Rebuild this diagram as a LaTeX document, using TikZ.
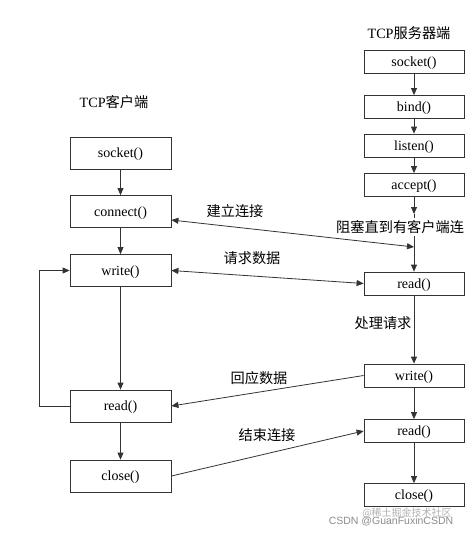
\documentclass[tikz,border=0pt]{standalone}
\usepackage{fontspec}
\setmainfont{Liberation Serif}
\newfontfamily\cjk{Noto Sans CJK SC}
\newfontfamily\wmfont{Liberation Sans}
\usetikzlibrary{arrows.meta,calc}
\begin{document}
\begin{tikzpicture}[x=1pt,y=-1pt,
  line/.style={draw=black!80,line width=0.8pt},
  arr/.style={line,-{Triangle[length=7pt,width=6pt]}},
  darr/.style={line,{Triangle[length=7pt,width=6pt]}-{Triangle[length=7pt,width=6pt]}},
  cbox/.style={line,fill=white,minimum width=101pt,minimum height=32pt,inner sep=0pt,text depth=0pt,font=\fontsize{14}{16}\selectfont},
  sbox/.style={line,fill=white,minimum width=100pt,minimum height=23pt,inner sep=0pt,text depth=0pt,font=\fontsize{14}{16}\selectfont},
  lbl/.style={inner sep=0pt,font=\cjk\fontsize{14.2}{16}\selectfont},
]
\useasboundingbox[fill=white] (0,0) rectangle (465,535);
% titles
\node[lbl] (tserver) at (409,33) {\rmfamily TCP\cjk 服务器端};
\node[lbl] (tclient) at (114,102) {\rmfamily TCP\cjk 客户端};
% client boxes
\node[cbox] (csock) at (120.5,153) {socket()};
\node[cbox] (cconn) at (120.5,211.5) {connect()};
\node[cbox] (cwrite) at (120.5,270.5) {write()};
\node[cbox] (cread) at (120.5,406) {read()};
\node[cbox] (cclose) at (120.5,476) {close()};
% server boxes
\node[sbox] (ssock) at (414,61.5) {socket()};
\node[sbox] (sbind) at (414,107) {bind()};
\node[sbox] (slisten) at (414,145.5) {listen()};
\node[sbox] (sacc) at (414,185) {accept()};
\node[sbox] (sread) at (414,283.5) {read()};
\node[sbox] (swrite) at (414,375.5) {write()};
\node[sbox] (sread2) at (414,431) {read()};
\node[sbox] (sclose) at (414,495) {close()};
\coordinate (jB) at (414,214);
\coordinate (jA) at (414,247);
% client flow
\draw[arr] (csock) -- (cconn);
\draw[arr] (cconn) -- (cwrite);
\draw[arr] (cwrite) -- (cread);
\draw[arr] (cread) -- (cclose);
\draw[arr] (cread.west) -- ++(-30,0) |- (cwrite.west);
% server flow
\draw[arr] (ssock) -- (sbind);
\draw[arr] (sbind) -- (slisten);
\draw[arr] (slisten) -- (sacc);
\draw[arr] (sacc) -- (jB);
\draw[arr] (jB) -- (sread);
\draw[arr] (sread) -- (swrite);
\draw[arr] (swrite) -- (sread2);
\draw[arr] (sread2) -- (sclose);
% exchanges
\draw[darr] ($(cconn.east)+(0,8.5)$) -- (jA);
\draw[darr] (cwrite.east) -- (sread.west);
\draw[arr] (swrite.west) -- (cread.east);
\draw[arr] (cclose.east) -- (sread2.west);
% labels
\node[lbl,fill=white,anchor=west,inner ysep=2pt] (lblock) at (336,227) {阻塞直到有客户端连};
\node[lbl] (lconn) at (235,211) {建立连接};
\node[lbl] (lreq) at (252,258) {请求数据};
\node[lbl] (lproc) at (383,323) {处理请求};
\node[lbl] (lresp) at (259,378) {回应数据};
\node[lbl] (lend) at (267,435) {结束连接};
% watermark
\node[inner sep=0pt,text=black!30,font=\cjk\fontsize{10}{12}\selectfont] (wm2) at (407,513) {@稀土掘金技术社区};
\node[inner sep=0pt,text=black!45,font=\wmfont\fontsize{10.5}{12}\selectfont] (wm1) at (391,521) {CSDN @GuanFuxinCSDN};
\end{tikzpicture}
\end{document}
